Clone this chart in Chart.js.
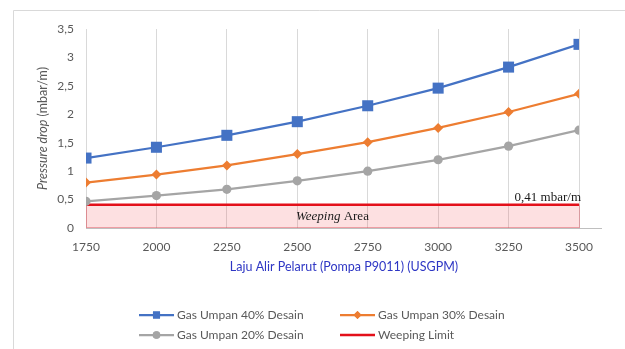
<!DOCTYPE html>
<html>
<head>
<meta charset="utf-8">
<script src="https://cdn.jsdelivr.net/npm/chart.js@4"></script>
<style>
  html, body { margin: 0; padding: 0; background: #fff; overflow: hidden; }
  #wrap { width: 625px; height: 349px; position: relative; }
</style>
</head>
<body>
<div id="wrap"><canvas id="chart" width="625" height="349"></canvas></div>
<script>
// Solvent flow rate (USGPM)
const flowRates = [1750, 2000, 2250, 2500, 2750, 3000, 3250, 3500];
// Pressure drop (mbar/m) per feed-gas load
const gas40 = [1.23, 1.42, 1.63, 1.87, 2.15, 2.46, 2.83, 3.23];
const gas30 = [0.80, 0.94, 1.10, 1.30, 1.51, 1.76, 2.04, 2.36];
const gas20 = [0.47, 0.57, 0.68, 0.83, 1.00, 1.20, 1.44, 1.72];
// Weeping limit (mbar/m)
const weepingLimit = 0.41;

const seriesLabels = ['Gas Umpan 40% Desain', 'Gas Umpan 30% Desain', 'Gas Umpan 20% Desain', 'Weeping Limit'];
const yTicks = [0, 0.5, 1, 1.5, 2, 2.5, 3, 3.5];

const SANS = 'Lato, "Noto Sans", sans-serif';
const SERIF = '"Liberation Serif", "DejaVu Serif", serif';
const GREY_TEXT = '#595959';

const toPoints = vals => flowRates.map((x, i) => ({ x, y: vals[i] }));
const commaDecimal = v => String(v).replace('.', ',');

const datasets = [
  { label: seriesLabels[0], data: toPoints(gas40), borderColor: '#4472C4', backgroundColor: '#4472C4',
    borderWidth: 2.25, pointStyle: 'rect', pointRadius: 7.8, pointBorderWidth: 0, legendRadius: 5 },
  { label: seriesLabels[1], data: toPoints(gas30), borderColor: '#ED7D31', backgroundColor: '#ED7D31',
    borderWidth: 2.25, pointStyle: 'rectRot', pointRadius: 5, pointBorderWidth: 0, legendRadius: 4 },
  { label: seriesLabels[2], data: toPoints(gas20), borderColor: '#A5A5A5', backgroundColor: '#A5A5A5',
    borderWidth: 2.25, pointStyle: 'circle', pointRadius: 4.6, pointBorderWidth: 0, legendRadius: 3.8 },
  { label: seriesLabels[3],
    data: [{ x: flowRates[0], y: weepingLimit }, { x: flowRates[flowRates.length - 1], y: weepingLimit }],
    borderColor: '#E3101A', borderWidth: 2.5, pointRadius: 0, legendRadius: 0,
    fill: 'origin', backgroundColor: 'rgba(245, 60, 70, 0.16)', order: 10 }
];

const AXIS_OVERHANG = 23;

const decor = {
  id: 'decor',
  beforeDraw(chart) {
    const ctx = chart.ctx;
    ctx.save();
    ctx.fillStyle = '#fff';
    ctx.fillRect(0, 0, chart.width, chart.height);
    // chart frame
    ctx.strokeStyle = '#d9d9d9';
    ctx.lineWidth = 1;
    ctx.beginPath();
    ctx.moveTo(13.5, chart.height);
    ctx.lineTo(13.5, 10.5);
    ctx.lineTo(chart.width, 10.5);
    ctx.stroke();
    ctx.restore();
  },
  beforeDatasetsDraw(chart) {
    const ctx = chart.ctx;
    const xs = chart.scales.x, ys = chart.scales.y;
    const x0 = xs.getPixelForValue(flowRates[0]);
    const x1 = xs.getPixelForValue(flowRates[flowRates.length - 1]);
    const yb = ys.getPixelForValue(0);
    const yl = ys.getPixelForValue(weepingLimit);
    ctx.save();
    // outline of the weeping area
    ctx.strokeStyle = 'rgba(215, 80, 90, 0.45)';
    ctx.lineWidth = 1;
    ctx.strokeRect(Math.round(x0) + 0.5, yl, Math.round(x1 - x0), yb - yl - 0.5);
    // horizontal axis line
    ctx.strokeStyle = '#bfbfbf';
    ctx.lineWidth = 1;
    ctx.beginPath();
    ctx.moveTo(x0, Math.round(yb) + 0.5);
    ctx.lineTo(x1 + AXIS_OVERHANG, Math.round(yb) + 0.5);
    ctx.stroke();
    ctx.restore();
  },
  afterDraw(chart) {
    const ctx = chart.ctx;
    const xs = chart.scales.x, ys = chart.scales.y;
    const area = chart.chartArea;
    const x0 = xs.getPixelForValue(flowRates[0]);
    const x1 = xs.getPixelForValue(flowRates[flowRates.length - 1]);
    const yb = ys.getPixelForValue(0);
    const yl = ys.getPixelForValue(weepingLimit);
    ctx.save();

    // "Weeping Area" caption inside the band
    ctx.fillStyle = '#1a1a1a';
    ctx.textBaseline = 'middle';
    const fItal = 'italic 13px ' + SERIF, fNorm = '13px ' + SERIF;
    ctx.font = fItal; const w1 = ctx.measureText('Weeping').width;
    ctx.font = fNorm; const w2 = ctx.measureText(' Area').width;
    let tx = (x0 + x1) / 2 - (w1 + w2) / 2;
    const ty = (yb + yl) / 2 + 0.5;
    ctx.textAlign = 'left';
    ctx.font = fItal; ctx.fillText('Weeping', tx, ty);
    ctx.font = fNorm; ctx.fillText(' Area', tx + w1, ty);

    // limit value label above the line
    ctx.textAlign = 'right';
    ctx.textBaseline = 'alphabetic';
    ctx.font = fNorm;
    ctx.fillText(commaDecimal(weepingLimit) + ' mbar/m', x1 + 2, yl - 4);

    // y-axis title (rotated)
    ctx.save();
    ctx.translate(area.left - 43, (area.top + area.bottom) / 2);
    ctx.rotate(-Math.PI / 2);
    ctx.fillStyle = GREY_TEXT;
    ctx.textBaseline = 'middle';
    const fyI = 'italic 12.5px ' + SANS, fyN = '12.5px ' + SANS;
    ctx.font = fyI; const a1 = ctx.measureText('Pressure drop').width;
    ctx.font = fyN; const a2 = ctx.measureText(' (mbar/m)').width;
    ctx.textAlign = 'left';
    ctx.font = fyI; ctx.fillText('Pressure drop', -(a1 + a2) / 2, 0);
    ctx.font = fyN; ctx.fillText(' (mbar/m)', -(a1 + a2) / 2 + a1, 0);
    ctx.restore();

    // x-axis title
    ctx.fillStyle = '#2e36c4';
    ctx.font = '12.5px ' + SANS;
    ctx.textAlign = 'center';
    ctx.textBaseline = 'middle';
    ctx.fillText('Laju Alir Pelarut (Pompa P9011) (USGPM)', (x0 + x1 + AXIS_OVERHANG) / 2, yb + 39);

    // legend, two columns
    const slots = [[139, 315], [340, 315], [139, 335], [340, 335]];
    chart.data.datasets.forEach((ds, i) => {
      const [lx, ly] = slots[i];
      ctx.strokeStyle = ds.borderColor;
      ctx.lineWidth = ds.borderWidth;
      ctx.beginPath();
      ctx.moveTo(lx, ly); ctx.lineTo(lx + 35, ly);
      ctx.stroke();
      if (ds.legendRadius > 0) {
        ctx.fillStyle = ds.backgroundColor;
        Chart.helpers.drawPoint(ctx, { pointStyle: ds.pointStyle, radius: ds.legendRadius, rotation: 0, borderWidth: 0 }, lx + 17.5, ly);
        ctx.fill();
      }
      ctx.fillStyle = GREY_TEXT;
      ctx.font = '12px ' + SANS;
      ctx.textAlign = 'left';
      ctx.textBaseline = 'middle';
      ctx.fillText(ds.label, lx + 38, ly);
    });
    ctx.restore();
  }
};

new Chart(document.getElementById('chart'), {
  type: 'line',
  data: { datasets },
  options: {
    responsive: false,
    devicePixelRatio: 1,
    animation: false,
    layout: { padding: { top: 29, right: 46, bottom: 0, left: 0 } },
    plugins: { legend: { display: false }, tooltip: { enabled: false } },
    elements: { line: { tension: 0 } },
    scales: {
      x: {
        type: 'linear',
        min: flowRates[0],
        max: flowRates[flowRates.length - 1],
        afterBuildTicks: s => { s.ticks = flowRates.map(v => ({ value: v })); },
        afterFit: s => { s.height = 121; },
        border: { display: false },
        grid: { color: '#d9d9d9', lineWidth: 1, drawTicks: false },
        ticks: { padding: 12, color: GREY_TEXT, font: { family: SANS, size: 12 },
                 maxRotation: 0, autoSkip: false, callback: v => String(v) }
      },
      y: {
        min: 0,
        max: yTicks[yTicks.length - 1],
        afterBuildTicks: s => { s.ticks = yTicks.map(v => ({ value: v })); },
        afterFit: s => { s.width = 86; },
        border: { display: false },
        grid: { display: false, drawTicks: false },
        ticks: { padding: 12, color: GREY_TEXT, font: { family: SANS, size: 12 },
                 callback: v => commaDecimal(v) }
      }
    }
  },
  plugins: [decor]
});
</script>
</body>
</html>
